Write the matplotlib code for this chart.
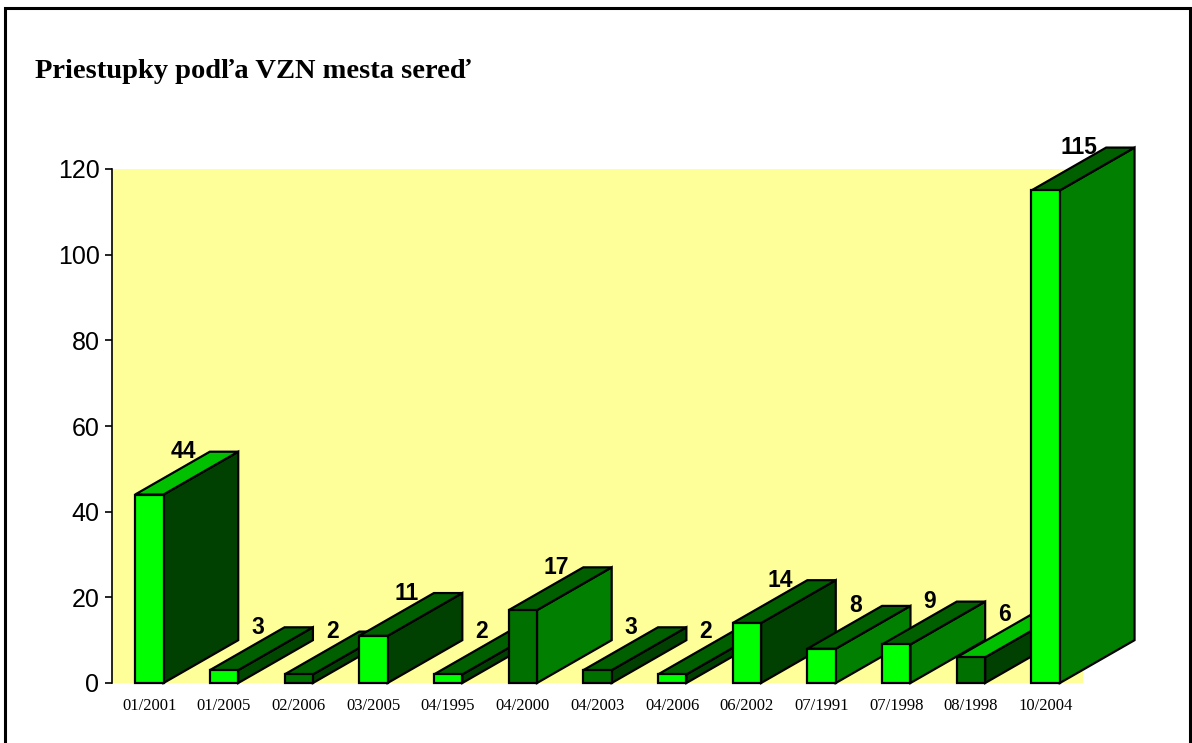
import numpy as np
import matplotlib
matplotlib.use("Agg")
import matplotlib.pyplot as plt
from matplotlib.patches import Polygon, Rectangle

categories = ["01/2001", "01/2005", "02/2006", "03/2005", "04/1995", "04/2000", "04/2003",
              "04/2006", "06/2002", "07/1991", "07/1998", "08/1998", "10/2004"]
values = [44, 3, 2, 11, 2, 17, 3, 2, 14, 8, 9, 6, 115]

# face colours per bar: front, top, side
front_cols = ["#00ff00", "#00ff00", "#007000", "#00ff00", "#00ff00", "#007000", "#007000",
              "#00ff00", "#00ff00", "#00ff00", "#00ff00", "#007000", "#00ff00"]
top_cols = ["#00c000", "#006000", "#006000", "#006000", "#006000", "#006000", "#006000",
            "#006000", "#006000", "#006000", "#006000", "#00c000", "#006000"]
side_cols = ["#004000", "#004800", "#004000", "#004000", "#004000", "#007f00", "#004000",
             "#004000", "#004000", "#007f00", "#007f00", "#004000", "#007f00"]

w = 0.38     # front width in category units
dx = 1.0     # depth offset (x, category units)
dy = 10.0    # depth offset (y, value units)

fig = plt.figure(figsize=(11.92, 7.43), dpi=100)
ax = fig.add_axes([112/1192, 60/743, 971/1192, 514/743])
ax.set_facecolor("#ffff99")
ax.set_xlim(-0.5, len(categories) - 0.5)
ax.set_ylim(0, 120)

x = np.arange(len(categories))
for i, (c, v) in enumerate(zip(x, values)):
    x0, x1 = c - w / 2, c + w / 2
    z = 3 + i
    side = Polygon([(x1, 0), (x1 + dx, dy), (x1 + dx, v + dy), (x1, v)],
                   closed=True, fc=side_cols[i], ec="black", lw=1.6, zorder=z, clip_on=False)
    top = Polygon([(x0, v), (x1, v), (x1 + dx, v + dy), (x0 + dx, v + dy)],
                  closed=True, fc=top_cols[i], ec="black", lw=1.6, zorder=z, clip_on=False)
    front = Rectangle((x0, 0), w, v, fc=front_cols[i], ec="black", lw=1.6, zorder=z, clip_on=False)
    ax.add_patch(side)
    ax.add_patch(top)
    ax.add_patch(front)
    ax.text(c + 0.45, v + dy, str(v), ha="center", va="center", fontsize=16.5,
            fontweight="bold", family="Liberation Sans", zorder=30)

ax.set_xticks(x)
ax.set_xticklabels(categories, family="Liberation Serif", fontsize=12)
ax.tick_params(axis="x", length=0, pad=11)
ax.set_yticks(np.arange(0, 121, 20))
ax.tick_params(axis="y", length=5, width=1.2, labelsize=18, pad=4)
for lab in ax.get_yticklabels():
    lab.set_family("Liberation Sans")
for s in ["top", "right", "bottom"]:
    ax.spines[s].set_visible(False)
ax.spines["left"].set_linewidth(1.2)

fig.text(35/1192, 1 - 72/743, "Priestupky podľa VZN mesta sereď", family="Liberation Serif",
         fontweight="bold", fontsize=20.5, ha="left", va="center")

frame = Rectangle((5/1192, -0.05), 1185/1192, 1.05 - 8/743, transform=fig.transFigure,
                  fill=False, ec="black", lw=2.2)
fig.patches.append(frame)

fig.savefig("out.png", dpi=100)
